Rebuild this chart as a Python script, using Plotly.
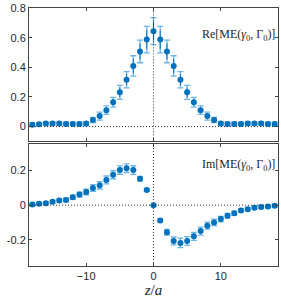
import plotly.graph_objects as go
from plotly.subplots import make_subplots

z = list(range(-18, 19))

re_val = [0.013, 0.016, 0.020, 0.020, 0.020, 0.018, 0.018, 0.018, 0.020, 0.044, 0.071, 0.111,
          0.164, 0.231, 0.316, 0.409, 0.507, 0.587, 0.644, 0.587, 0.507, 0.409, 0.316, 0.231,
          0.164, 0.111, 0.071, 0.044, 0.020, 0.018, 0.018, 0.018, 0.020, 0.020, 0.020, 0.018, 0.018]
re_err = [0.011, 0.011, 0.011, 0.011, 0.011, 0.011, 0.011, 0.011, 0.013, 0.018, 0.027, 0.029,
          0.033, 0.047, 0.055, 0.069, 0.076, 0.089, 0.091, 0.089, 0.076, 0.069, 0.055, 0.047,
          0.033, 0.029, 0.027, 0.018, 0.013, 0.011, 0.011, 0.011, 0.011, 0.011, 0.011, 0.011, 0.011]

im_val = [0.004, 0.008, 0.011, 0.019, 0.027, 0.030, 0.046, 0.061, 0.076, 0.099, 0.114, 0.145,
          0.175, 0.202, 0.213, 0.202, 0.152, 0.088, 0.000, -0.088, -0.156, -0.206, -0.217, -0.206,
          -0.179, -0.149, -0.118, -0.099, -0.080, -0.061, -0.046, -0.030, -0.023, -0.015, -0.011,
          -0.008, -0.004]
im_err = [0.008, 0.008, 0.009, 0.009, 0.010, 0.010, 0.012, 0.014, 0.016, 0.019, 0.021, 0.023,
          0.023, 0.024, 0.025, 0.025, 0.014, 0.009, 0.004, 0.009, 0.016, 0.023, 0.027, 0.025,
          0.023, 0.023, 0.020, 0.019, 0.016, 0.014, 0.012, 0.010, 0.010, 0.009, 0.009, 0.008, 0.008]

stat_frac = 0.7
dark = "#0072BD"
light = "#6FB4E6"

fig = make_subplots(rows=2, cols=1, shared_xaxes=False, vertical_spacing=0.0115,
                    row_heights=[0.523, 0.477])

for row, vals, errs in [(1, re_val, re_err), (2, im_val, im_err)]:
    fig.add_trace(go.Scatter(x=z, y=vals, mode="markers",
                             marker=dict(size=1, color=light),
                             error_y=dict(type="data", array=errs, color=light, thickness=1.3, width=3),
                             showlegend=False, hoverinfo="skip"), row=row, col=1)
    fig.add_trace(go.Scatter(x=z, y=vals, mode="markers",
                             marker=dict(size=6, color=dark),
                             error_y=dict(type="data", array=[e * stat_frac for e in errs],
                                          color=dark, thickness=1, width=0),
                             showlegend=False), row=row, col=1)

axcol = "#444444"
common_x = dict(range=[-18.5, 18.5], tickvals=[-10, 0, 10], ticks="inside", ticklen=3,
                showline=True, linecolor=axcol, linewidth=1, mirror="allticks",
                tickcolor=axcol, showgrid=False, zeroline=False,
                tickfont=dict(family="Liberation Sans", size=11, color="#262626"))
fig.update_xaxes(**common_x)
fig.update_xaxes(showticklabels=False, row=1, col=1)
fig.update_xaxes(title=dict(text="<i>z</i>/<i>a</i>", font=dict(family="Liberation Serif", size=15, color="#262626"),
                            standoff=2), row=2, col=1)

common_y = dict(ticks="inside", ticklen=3, showline=True, linecolor=axcol, linewidth=1,
                mirror="allticks", tickcolor=axcol, showgrid=False, zeroline=False,
                ticklabeloverflow="allow",
                tickfont=dict(family="Liberation Sans", size=11, color="#262626"))
fig.update_yaxes(**common_y)
fig.update_yaxes(range=[-0.1, 0.8005], tickvals=[0, 0.2, 0.4, 0.6, 0.8],
                 ticktext=["0", "0.2", "0.4", "0.6", "0.8"], row=1, col=1)
fig.update_yaxes(range=[-0.35, 0.35], tickvals=[-0.2, 0, 0.2],
                 ticktext=["-0.2", "0", "0.2"], row=2, col=1)

for xr, yr in [("x", "y"), ("x2", "y2")]:
    fig.add_shape(type="line", xref=xr, yref=yr + " domain", x0=0, x1=0, y0=0, y1=1,
                  line=dict(color="#333333", width=1, dash="1px,2px"))
    fig.add_shape(type="line", xref=xr + " domain", yref=yr, x0=0, x1=1, y0=0, y1=0,
                  line=dict(color="#333333", width=1, dash="1px,2px"))

fig.add_annotation(xref="x domain", yref="y domain", x=0.995, y=0.80, xanchor="right", yanchor="middle",
                   text="Re[ME(<i>γ</i><sub>0</sub>, Γ<sub>0</sub>)]", showarrow=False,
                   font=dict(family="Liberation Serif", size=12, color="#262626"))
fig.add_annotation(xref="x2 domain", yref="y2 domain", x=0.995, y=0.83, xanchor="right", yanchor="middle",
                   text="Im[ME(<i>γ</i><sub>0</sub>, Γ<sub>0</sub>)]", showarrow=False,
                   font=dict(family="Liberation Serif", size=12, color="#262626"))

fig.update_layout(width=281, height=306, margin=dict(l=29, r=2, t=5, b=40),
                  plot_bgcolor="white", paper_bgcolor="white")

fig.write_html("out.html", config={"displayModeBar": False},
               post_script="document.body.style.margin='0';document.body.style.overflow='hidden';")
